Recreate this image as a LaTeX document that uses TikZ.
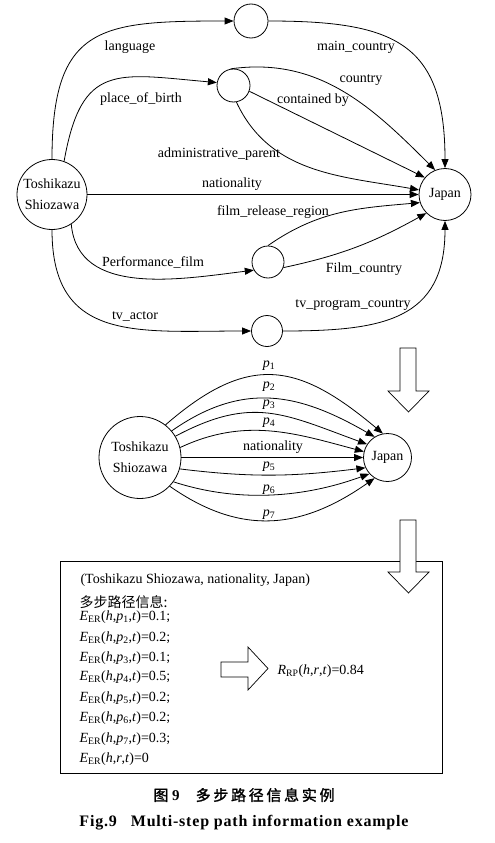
\documentclass[tikz,border=0pt]{standalone}
\usepackage{fontspec}
\setmainfont{Liberation Serif}
\newfontfamily\cjk{Noto Sans CJK SC}
\newfontfamily\cjkcap[FakeBold=1.5,LetterSpace=18]{Noto Sans CJK SC}
\newfontfamily\capfont[LetterSpace=5]{Liberation Serif}
\usetikzlibrary{arrows.meta}

\newcommand{\pk}[1]{\textit{p}\textsubscript{#1}}
\newcommand{\eer}[2]{\textit{E}\textsubscript{ER}(\textit{h},#1,\textit{t})=#2}

\begin{document}
\begin{tikzpicture}[x=10pt,y=10pt,
                every node/.style={font=\fontsize{14}{21}\selectfont},
                ent/.style={draw,circle,line width=0.8pt,inner sep=0pt,minimum size=33pt},
                arr/.style={-{Triangle[length=9pt,width=7pt]},line width=0.8pt},
                hollow/.style={draw,line width=0.7pt,fill=white}]
                \useasboundingbox (0,0) rectangle (49.5,-84.3);

                \node[ent,minimum size=70pt,align=center] (ts) at (5.2,-19.45) {Toshikazu\\Shiozawa};
                \node[ent,minimum size=52pt] (jp) at (44.5,-19.45) {Japan};
                \node[ent,minimum size=34pt] (ln) at (25.1,-2.1) {};
                \node[ent] (pb) at (23.35,-8.55) {};
                \node[ent,minimum size=32pt] (fm) at (26.8,-26.2) {};
                \node[ent,minimum size=31pt] (tv) at (26.7,-33.1) {};

                \draw[arr] (ts.90) to[out=90,in=180,looseness=1.5] (ln.180);
                \draw[arr] (ln.0) to[out=0,in=90,looseness=1.4] (jp.90);
                \draw[arr] (ts.70) to[out=80,in=175,looseness=1.5] (pb.170);
                \draw[arr] (pb.100) to[out=8,in=135] (jp.112);
                \draw[arr] (pb.-20) -- (jp.140);
                \draw[arr] (pb.-80) to[out=-65,in=170] (jp.170);
                \draw[arr] (ts) -- (jp);
                \draw[arr] (fm.90) to[out=35,in=185] (jp.198);
                \draw[arr] (fm.-20) to[out=12,in=209] (jp.225);
                \draw[arr] (ts.-57) to[out=-85,in=187] (fm.210);
                \draw[arr] (ts.-90) to[out=-90,in=180,looseness=1.3] (tv.180);
                \draw[arr] (tv.0) to[out=0,in=-90,looseness=1.3] (jp.-90);

                \node (llang) at (13.0,-4.7) {language};
                \node (lmain) at (35.6,-4.7) {main\_country};
                \node (lbirth) at (14.1,-9.9) {place\_of\_birth};
                \node (lcountry) at (36.1,-8.0) {country};
                \node (lcont) at (31.3,-10.0) {contained by};
                \node (ladmin) at (21.9,-15.4) {administrative\_parent};
                \node (lnat) at (23.2,-18.4) {nationality};
                \node (lrel) at (27.3,-21.2) {film\_release\_region};
                \node (lperf) at (15.3,-26.2) {Performance\_film};
                \node (lfilm) at (36.4,-26.9) {Film\_country};
                \node (ltvp) at (35.3,-30.5) {tv\_program\_country};
                \node (ltva) at (13.5,-31.6) {tv\_actor};

                \draw[hollow] (40.0,-34.8) -- (41.6,-34.8) -- (41.6,-39.1) -- (42.9,-39.1) -- (40.85,-41.2) -- (38.8,-39.1) -- (40.0,-39.1) -- cycle;

                \node[ent,minimum size=82pt,align=center] (ts2) at (14.0,-45.75) {Toshikazu\\Shiozawa};
                \node[ent,minimum size=48pt] (jp2) at (38.75,-45.75) {Japan};

                \draw[arr] (ts2.52) to[out=41,in=140,looseness=1.3] (jp2.101);
                \draw[arr] (ts2.40) to[out=35,in=150,looseness=1.1] (jp2.122);
                \draw[arr] (ts2.31) to[out=28,in=160,looseness=1.17] (jp2.147);
                \draw[arr] (ts2.14) to[out=25,in=165] (jp2.166);
                \draw[arr] (ts2) -- (jp2);
                \draw[arr] (ts2.-16) to[out=-7,in=187] (jp2.205);
                \draw[arr] (ts2.-36) to[out=-18,in=200,looseness=0.9] (jp2.222);
                \draw[arr] (ts2.-44) to[out=-35,in=215,looseness=1.1] (jp2.238);

                \node (lp1) at (26.9,-36.6) {\pk{1}};
                \node (lp2) at (26.9,-38.7) {\pk{2}};
                \node (lp3) at (26.9,-40.5) {\pk{3}};
                \node (lp4) at (26.9,-42.3) {\pk{4}};
                \node (lnat2) at (27.3,-44.7) {nationality};
                \node (lp5) at (26.9,-46.7) {\pk{5}};
                \node (lp6) at (26.9,-49.0) {\pk{6}};
                \node (lp7) at (26.9,-51.5) {\pk{7}};

                \draw[line width=0.8pt] (6.0,-56.1) rectangle (44.2,-77.3);
                \draw[hollow] (40.0,-52.0) -- (41.6,-52.0) -- (41.6,-57.2) -- (42.9,-57.2) -- (40.85,-59.3) -- (38.8,-57.2) -- (40.0,-57.2) -- cycle;

                \node[anchor=west] (triple) at (7.7,-58.0) {(Toshikazu Shiozawa, nationality, Japan)};
                \node[anchor=west] (info) at (7.6,-60.2) {\cjk 多步路径信息:};
                \node[anchor=west] (e1) at (7.6,-61.7) {\eer{\pk{1}}{0.1;}};
                \node[anchor=west] (e2) at (7.6,-63.8) {\eer{\pk{2}}{0.2;}};
                \node[anchor=west] (e3) at (7.6,-65.8) {\eer{\pk{3}}{0.1;}};
                \node[anchor=west] (e4) at (7.6,-67.7) {\eer{\pk{4}}{0.5;}};
                \node[anchor=west] (e5) at (7.6,-69.8) {\eer{\pk{5}}{0.2;}};
                \node[anchor=west] (e6) at (7.6,-71.8) {\eer{\pk{6}}{0.2;}};
                \node[anchor=west] (e7) at (7.6,-73.9) {\eer{\pk{7}}{0.3;}};
                \node[anchor=west] (e8) at (7.6,-75.9) {\eer{\textit{r}}{0}};

                \draw[hollow] (22.1,-66.2) -- (24.8,-66.2) -- (24.8,-64.7) -- (26.8,-66.85) -- (24.8,-69.0) -- (24.8,-67.7) -- (22.1,-67.7) -- cycle;
                \node[anchor=west] (rrp) at (27.4,-67.1) {\textit{R}\textsubscript{RP}(\textit{h},\textit{r},\textit{t})=0.84};

                \node (capcn) at (24.4,-79.5) {\fontsize{15}{18}\selectfont{\cjkcap 图}\hspace{1pt}\textbf{9}\hspace{16pt}{\cjkcap 多步路径信息实例}};
                \node (capen) at (24.4,-82.3) {\fontsize{16}{19}\selectfont\capfont\bfseries Fig.9\hspace{14pt}Multi-step path information example};
            \end{tikzpicture}
\end{document}
